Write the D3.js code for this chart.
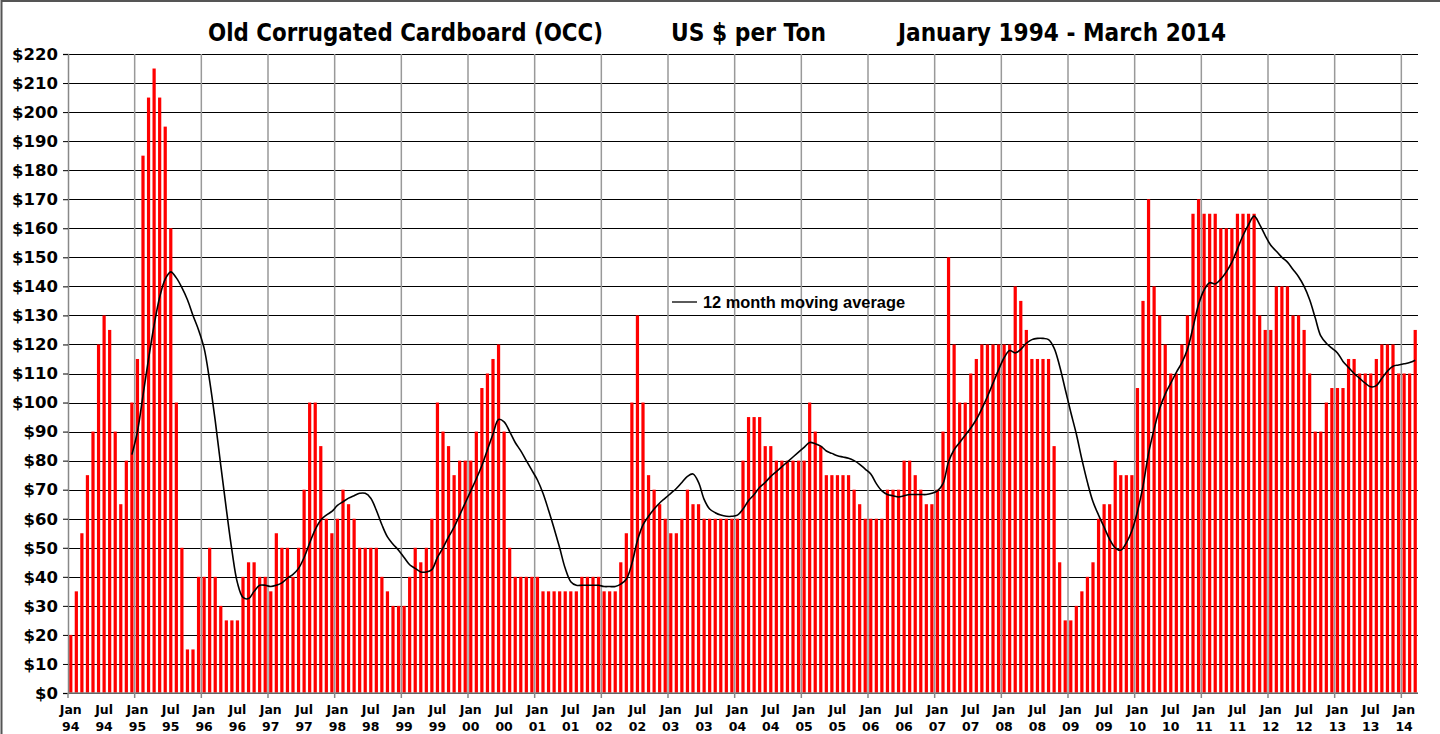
<!DOCTYPE html>
<html>
<head>
<meta charset="utf-8">
<script src="https://cdn.jsdelivr.net/npm/d3@7"></script>
<style>
  body { margin: 0; background: #fff; }
  svg { display: block; }
  .y.axis text { font-family: "DejaVu Sans", Verdana, sans-serif; font-weight: bold; font-size: 16.5px; fill: #000; }
  .x.axis text { font-family: "DejaVu Sans", Verdana, sans-serif; font-weight: bold; font-size: 12.5px; fill: #000; }
  .grid line { shape-rendering: crispEdges; }
</style>
</head>
<body>
<svg id="chart" width="1440" height="734"></svg>
<script>
// monthly OCC price, US $ per ton, Jan 1994 .. Mar 2014
var occ1994_1998 = [
  20, 35, 55, 75, 90, 120, 130, 125, 90, 65, 80, 100,
  115, 185, 205, 215, 205, 195, 160, 100, 50, 15, 15, 40,
  40, 50, 40, 30, 25, 25, 25, 40, 45, 45, 40, 40,
  35, 55, 50, 50, 40, 50, 70, 100, 100, 85, 60, 55,
  60, 70, 65, 60, 50, 50, 50, 50, 40, 35, 30, 30
];
var occ1999_2003 = [
  30, 40, 50, 45, 50, 60, 100, 90, 85, 75, 80, 80,
  80, 90, 105, 110, 115, 120, 90, 50, 40, 40, 40, 40,
  40, 35, 35, 35, 35, 35, 35, 35, 40, 40, 40, 40,
  35, 35, 35, 45, 55, 100, 130, 100, 75, 70, 65, 60,
  55, 55, 60, 70, 65, 65, 60, 60, 60, 60, 60, 60
];
var occ2004_2008 = [
  60, 80, 95, 95, 95, 85, 85, 80, 80, 80, 80, 80,
  80, 100, 90, 85, 75, 75, 75, 75, 75, 70, 65, 60,
  60, 60, 60, 70, 70, 70, 80, 80, 75, 70, 65, 65,
  70, 90, 150, 120, 100, 100, 110, 115, 120, 120, 120, 120,
  120, 120, 140, 135, 125, 115, 115, 115, 115, 85, 45, 25
];
var occ2009_2014 = [
  25, 30, 35, 40, 45, 60, 65, 65, 80, 75, 75, 75,
  105, 135, 170, 140, 130, 120, 110, 110, 120, 130, 165, 170,
  165, 165, 165, 160, 160, 160, 165, 165, 165, 165, 130, 125,
  125, 140, 140, 140, 130, 130, 125, 110, 90, 90, 100, 105,
  105, 105, 115, 115, 110, 110, 110, 115, 120, 120, 120, 110,
  110, 110, 125
];
var prices = occ1994_1998.concat(occ1999_2003, occ2004_2008, occ2009_2014);

var yearLabels = ["94","95","96","97","98","99","00","01","02","03","04",
                  "05","06","07","08","09","10","11","12","13","14"];
var monthLabels = ["Jan", "Jul"];
var yTicks = [0,10,20,30,40,50,60,70,80,90,100,110,120,130,140,150,160,170,180,190,200,210,220];
var maPeriod = 12;
var titleParts = ["Old Corrugated Cardboard (OCC)", "US $ per Ton", "January 1994 - March 2014"];
var legendLabel = "12 month moving average";

var svg = d3.select("#chart"),
    margin = {top: 54, right: 22, bottom: 41, left: 68};
var width  = 1440 - margin.left - margin.right;
var height = 734 - margin.top - margin.bottom;

svg.append("rect")
    .attr("x", 1.5).attr("y", 1)
    .attr("width", 1460).attr("height", 760)
    .attr("fill", "#fff")
    .attr("stroke", "#555").attr("stroke-width", 2);

var canvas = svg.append("g").attr("transform", "translate(" + margin.left + "," + margin.top + ")");

var x = d3.scaleBand()
    .domain(d3.range(prices.length))
    .range([0, width])
    .paddingInner(0.42)
    .paddingOuter(0.21);

var y = d3.scaleLinear().domain([0, 220]).range([height, 0]);

function center(i) { return x(i) + x.bandwidth() / 2; }
function boundary(i) { return center(i) - x.step() / 2; }

// horizontal grid
canvas.append("g")
    .attr("class", "grid")
    .call(d3.axisLeft(y).tickValues(yTicks).tickSize(-width).tickFormat(""))
    .call(function(g) {
      g.select(".domain").remove();
      g.selectAll("line").attr("stroke", "#000").attr("stroke-width", 1);
    });

// vertical grid at each January
var janIdx = d3.range(0, prices.length, 12);
canvas.append("g").selectAll("line")
    .data(janIdx.slice(1))
  .enter().append("line")
    .attr("x1", function(d) { return boundary(d); })
    .attr("x2", function(d) { return boundary(d); })
    .attr("y1", 0).attr("y2", height)
    .attr("stroke", "#999").attr("stroke-width", 1.5);

// bars
canvas.selectAll(".bar")
    .data(prices)
  .enter().append("rect")
    .attr("class", "bar")
    .style("fill", "#ff0000")
    .attr("x", function(d, i) { return x(i); })
    .attr("width", x.bandwidth())
    .attr("y", function(d) { return y(d); })
    .attr("height", function(d) { return height - y(d); });

// y axis
canvas.append("g")
    .attr("class", "y axis")
    .call(d3.axisLeft(y).tickValues(yTicks).tickSize(5).tickPadding(5)
          .tickFormat(function(d) { return "$" + d; }))
    .call(function(g) {
      g.select(".domain").attr("stroke", "#888").attr("stroke-width", 1.5);
      g.selectAll(".tick line").attr("stroke", "#000");
    });

// x axis line with ticks at year boundaries
canvas.append("line")
    .attr("x1", 0).attr("x2", width)
    .attr("y1", height).attr("y2", height)
    .attr("stroke", "#888").attr("stroke-width", 1.5);
canvas.append("g").selectAll("line")
    .data(janIdx)
  .enter().append("line")
    .attr("x1", function(d) { return boundary(d); })
    .attr("x2", function(d) { return boundary(d); })
    .attr("y1", height).attr("y2", height + 5)
    .attr("stroke", "#888").attr("stroke-width", 1.5);

// x labels: Jan / Jul with two-digit year below
var labelIdx = d3.range(0, prices.length, 6);
var xl = canvas.append("g").attr("class", "x axis")
  .selectAll("text")
    .data(labelIdx)
  .enter().append("text")
    .attr("text-anchor", "middle")
    .attr("x", function(d) { return center(d); })
    .attr("y", height + 21);
xl.append("tspan")
    .text(function(d) { return monthLabels[(d % 12) / 6]; });
xl.append("tspan")
    .attr("x", function(d) { return center(d); })
    .attr("dy", 17)
    .text(function(d) { return yearLabels[Math.floor(d / 12)]; });

// 12 month moving average
var ma = [];
prices.forEach(function(d, i) {
  if (i >= maPeriod - 1) ma.push({i: i, v: d3.mean(prices.slice(i - maPeriod + 1, i + 1))});
});
var line = d3.line()
    .x(function(d) { return center(d.i); })
    .y(function(d) { return y(d.v); })
    .curve(d3.curveCatmullRom.alpha(0.5));
canvas.append("path")
    .datum(ma)
    .attr("fill", "none")
    .attr("stroke", "#000")
    .attr("stroke-width", 1.6)
    .attr("d", line);

// legend
svg.append("line")
    .attr("x1", 672).attr("x2", 697).attr("y1", 302).attr("y2", 302)
    .attr("stroke", "#000").attr("stroke-width", 1.3);
svg.append("text")
    .attr("x", 703).attr("y", 308)
    .attr("textLength", 202).attr("lengthAdjust", "spacingAndGlyphs")
    .style("font-family", "'Liberation Sans', Arial, sans-serif")
    .style("font-weight", "bold").style("font-size", "16px")
    .text(legendLabel);

// title
var titleX = [208, 671, 898], titleW = [395, 155, 328];
svg.selectAll(".title")
    .data(titleParts)
  .enter().append("text")
    .attr("class", "title")
    .attr("x", function(d, i) { return titleX[i]; })
    .attr("y", 41)
    .attr("textLength", function(d, i) { return titleW[i]; })
    .attr("lengthAdjust", "spacingAndGlyphs")
    .style("font-family", "'DejaVu Sans', Verdana, sans-serif")
    .style("font-weight", "bold").style("font-size", "24px")
    .text(function(d) { return d; });
</script>
</body>
</html>
